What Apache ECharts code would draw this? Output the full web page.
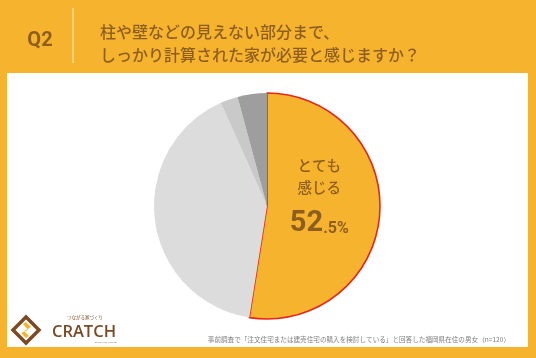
<!DOCTYPE html>
<html><head><meta charset="utf-8">
<style>html,body{margin:0;padding:0;background:#F6B42E;}#c{width:536px;height:358px;}</style>
<script src="https://cdn.jsdelivr.net/npm/echarts@6/dist/echarts.min.js"></script>
</head><body><div id="c"></div>
<script>
const categories = ['とても感じる', 'やや感じる', 'あまり感じない', '全く感じない'];
const values = [52.5, 40.8, 2.5, 4.2];
const sliceColors = ['#F6B42E', '#DCDCDC', '#C9C9C9', '#9E9E9E'];
const questionNo = 'Q2';
const titleLines = ['柱や壁などの見えない部分まで、', 'しっかり計算された家が必要と感じますか？'];
const footnote = '事前調査で「注文住宅または建売住宅の購入を検討している」と回答した福岡県在住の男女（n=120）';

const brown = '#8E5E1F';
const chart = echarts.init(document.getElementById('c'), null, {renderer: 'canvas'});
const font = '"Noto Sans CJK JP", "Noto Sans", sans-serif';
const numFont = 'Roboto, sans-serif';

chart.setOption({
  backgroundColor: '#F6B42E',
  animation: false,
  graphic: [
    {type: 'rect', shape: {x: 7, y: 73, width: 521, height: 274}, style: {fill: '#FFFFFF'}, z: -10},
    {type: 'line', shape: {x1: 73, y1: 8, x2: 73, y2: 63}, style: {stroke: '#F9DA95', lineWidth: 1.5}},
    {type: 'text', x: 40, y: 41, style: {text: questionNo, fill: brown, font: 'bold 20px Roboto, "Noto Sans", sans-serif', align: 'center', verticalAlign: 'middle'}},
    {type: 'text', x: 100, y: 32, style: {text: titleLines[0], fill: brown, font: '500 16px ' + font, verticalAlign: 'middle', letterSpacing: 0.7}},
    {type: 'text', x: 100, y: 55, style: {text: titleLines[1], fill: brown, font: '500 16px ' + font, verticalAlign: 'middle', letterSpacing: 0.7}},
    {type: 'text', x: 510, y: 339, style: {text: footnote, fill: '#808080', font: '6.6px ' + font, align: 'right', verticalAlign: 'middle'}},
    // logo
    {type: 'polygon', shape: {points: [[26, 317], [39, 330], [26, 343], [13, 330]]}, style: {fill: 'none', stroke: '#7A4A25', lineWidth: 3.5}},
    {type: 'polygon', shape: {points: [[26, 322], [31, 327], [24, 331], [29, 336], [26, 338], [21, 333], [28, 330], [23, 324]]}, style: {fill: '#F6B42E'}},
    {type: 'text', x: 84, y: 332, style: {text: 'CRATCH', fill: '#7A4A25', font: '600 16.5px "Open Sans", sans-serif', align: 'center', verticalAlign: 'middle', letterSpacing: 0.8}},
    {type: 'text', x: 85, y: 317, style: {text: 'つながる家づくり', fill: '#7A4A25', font: '4.5px ' + font, align: 'center', verticalAlign: 'middle', letterSpacing: 3.8}},
    {type: 'text', x: 117, y: 342, style: {text: 'STOCKING HOUSE', fill: '#9a7a60', font: '2.5px sans-serif', align: 'right', verticalAlign: 'middle'}}
  ],
  series: [{
    type: 'pie',
    center: [267, 206],
    radius: [0, 113],
    startAngle: 90,
    clockwise: true,
    silent: true,
    labelLine: {show: false},
    label: {show: false},
    data: categories.map((name, i) => ({
      name: name,
      value: values[i],
      itemStyle: i === 0
        ? {color: sliceColors[i], borderColor: '#E8261C', borderWidth: 1.6}
        : {color: sliceColors[i], borderWidth: 0},
      label: i === 0 ? {
        show: true,
        position: 'inside',
        formatter: () => 'とても\n感じる\n{big|' + String(values[i]).split('.')[0] + '}{small|.' + String(values[i]).split('.')[1] + '%}',
        color: brown,
        fontFamily: font,
        fontSize: 14.5,
        fontWeight: 500,
        lineHeight: 22,
        align: 'center',
        padding: [0, 14, 28, 0],
        rich: {
          big: {fontSize: 29, fontWeight: 'bold', fontFamily: numFont, color: brown, lineHeight: 40, verticalAlign: 'bottom'},
          small: {fontSize: 16, fontWeight: 'bold', fontFamily: numFont, color: brown, lineHeight: 40, verticalAlign: 'bottom', padding: [0, 0, 2, 0]}
        }
      } : {show: false}
    }))
  }]
});
</script></body></html>
